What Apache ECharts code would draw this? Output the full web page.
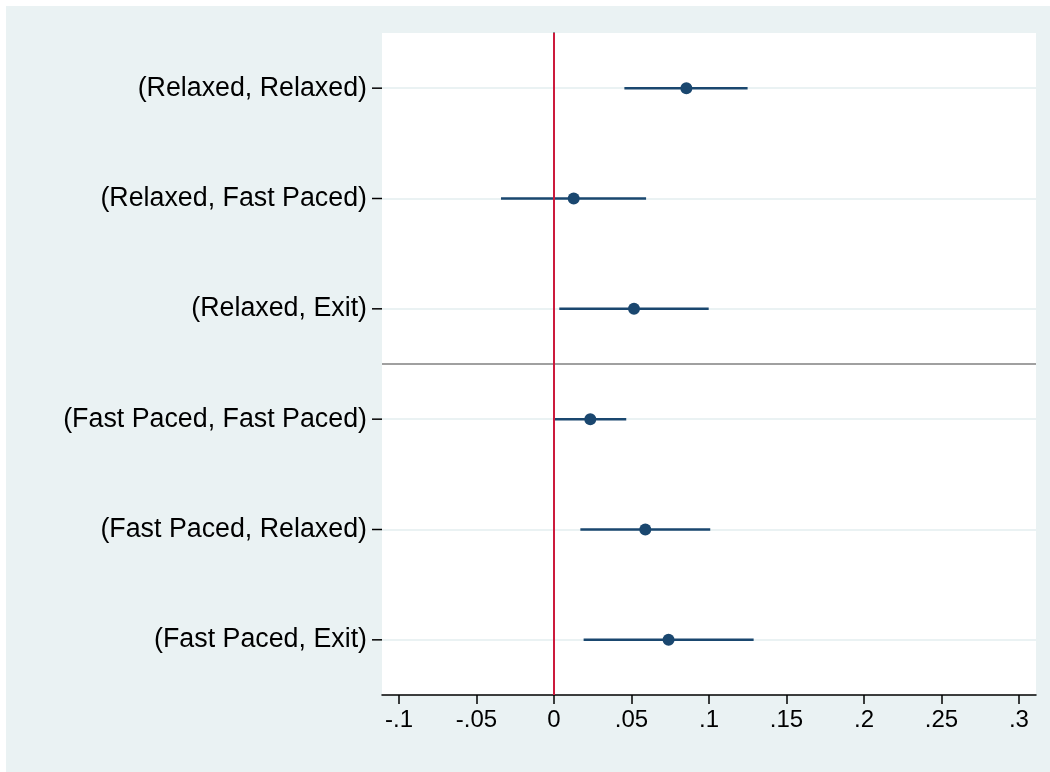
<!DOCTYPE html>
<html>
<head>
<meta charset="utf-8">
<script src="https://cdn.jsdelivr.net/npm/echarts@6/dist/echarts.min.js"></script>
<style>
html,body{margin:0;padding:0;background:#fff;}
#chart{width:1050px;height:772px;}
</style>
</head>
<body>
<div id="chart"></div>
<script>
const categories = ['(Relaxed, Relaxed)', '(Relaxed, Fast Paced)', '(Relaxed, Exit)', '(Fast Paced, Fast Paced)', '(Fast Paced, Relaxed)', '(Fast Paced, Exit)'];
const estimates = [0.0854, 0.0127, 0.0516, 0.0234, 0.0589, 0.0739];
const lower = [0.0454, -0.0342, 0.0034, 0.0002, 0.0170, 0.0191];
const upper = [0.1249, 0.0594, 0.0998, 0.0466, 0.1008, 0.1288];
const xTicks = [-0.1, -0.05, 0, 0.05, 0.1, 0.15, 0.2, 0.25, 0.3];
const groupSplit = [3];

const FONT = 'Liberation Sans, Arial, sans-serif';
const NAVY = '#1a476f';

function fmt(v) {
  if (Math.abs(v) < 1e-9) return '0';
  let s = String(Math.round(v * 1000) / 1000);
  return s.replace('0.', '.');
}

const chart = echarts.init(document.getElementById('chart'), null, {renderer: 'canvas'});
const option = {
  animation: false,
  backgroundColor: '#fff',
  graphic: [{
    type: 'rect', z: -10, silent: true,
    shape: {x: 6, y: 6, width: 1044, height: 766},
    style: {fill: '#eaf2f3'}
  }],
  grid: {
    left: 382, top: 33, right: 14, bottom: 77,
    show: true, backgroundColor: '#ffffff', borderWidth: 0
  },
  xAxis: {
    type: 'value', min: -0.111, max: 0.311,
    axisLine: {show: true, onZero: false, lineStyle: {color: '#000', width: 1.5}},
    axisTick: {show: true, length: 9, customValues: xTicks, lineStyle: {color: '#000', width: 1.5}},
    axisLabel: {customValues: xTicks, formatter: fmt, fontFamily: FONT, fontSize: 24, color: '#000', margin: 13},
    splitLine: {show: false}
  },
  yAxis: [{
    type: 'category', data: categories, inverse: true, boundaryGap: true,
    axisLine: {show: true, lineStyle: {color: '#000', width: 1.5}},
    axisTick: {show: true, alignWithLabel: true, length: 10, lineStyle: {color: '#000', width: 1.5}},
    axisLabel: {fontFamily: FONT, fontSize: 26.8, color: '#000', margin: 15},
    splitLine: {show: false}
  }, {
    type: 'value', min: 0, max: 6, inverse: true, show: false
  }],
  series: [
    {
      type: 'line', data: [], yAxisIndex: 0, z: 1, silent: true,
      markLine: {
        z: 1, silent: true, symbol: 'none', label: {show: false}, animation: false,
        lineStyle: {color: '#eaf2f3', width: 2, type: 'solid'},
        data: categories.map(c => ({yAxis: c}))
      }
    },
    {
      type: 'line', data: [], yAxisIndex: 1, z: 2, silent: true,
      markLine: {
        z: 2, silent: true, symbol: 'none', label: {show: false}, animation: false,
        lineStyle: {color: '#a0a0a0', width: 2, type: 'solid'},
        data: groupSplit.map(v => ({yAxis: v}))
      }
    },
    {
      type: 'custom', yAxisIndex: 0, z: 3,
      encode: {x: [0, 1], y: 2},
      data: categories.map((c, i) => [lower[i], upper[i], i]),
      renderItem: function (params, api) {
        const y = api.value(2);
        const p1 = api.coord([api.value(0), y]);
        const p2 = api.coord([api.value(1), y]);
        return {type: 'rect', shape: {x: p1[0], y: p1[1] - 1.25, width: p2[0] - p1[0], height: 2.5},
          style: {fill: NAVY, stroke: null, opacity: 1}};
      }
    },
    {
      type: 'custom', yAxisIndex: 0, z: 3, clip: false, silent: true,
      encode: {y: 0},
      data: categories.map((c, i) => [i]),
      renderItem: function (params, api) {
        const x0 = params.coordSys.x;
        const p = api.coord([0, api.value(0)]);
        return {type: 'line', shape: {x1: x0 - 10, y1: p[1], x2: x0, y2: p[1]},
          style: {stroke: '#000', lineWidth: 1.5}};
      }
    },
    {
      type: 'line', data: [], yAxisIndex: 0, z: 4, silent: true,
      markLine: {
        z: 4, silent: true, symbol: 'none', label: {show: false}, animation: false,
        lineStyle: {color: '#cc1a3c', width: 2, type: 'solid'},
        data: [{xAxis: 0}]
      }
    },
    {
      type: 'scatter', yAxisIndex: 0, z: 6,
      symbol: 'circle', symbolSize: 12,
      itemStyle: {color: NAVY, opacity: 1},
      data: categories.map((c, i) => [estimates[i], c])
    }
  ]
};
chart.setOption(option);
</script>
</body>
</html>
